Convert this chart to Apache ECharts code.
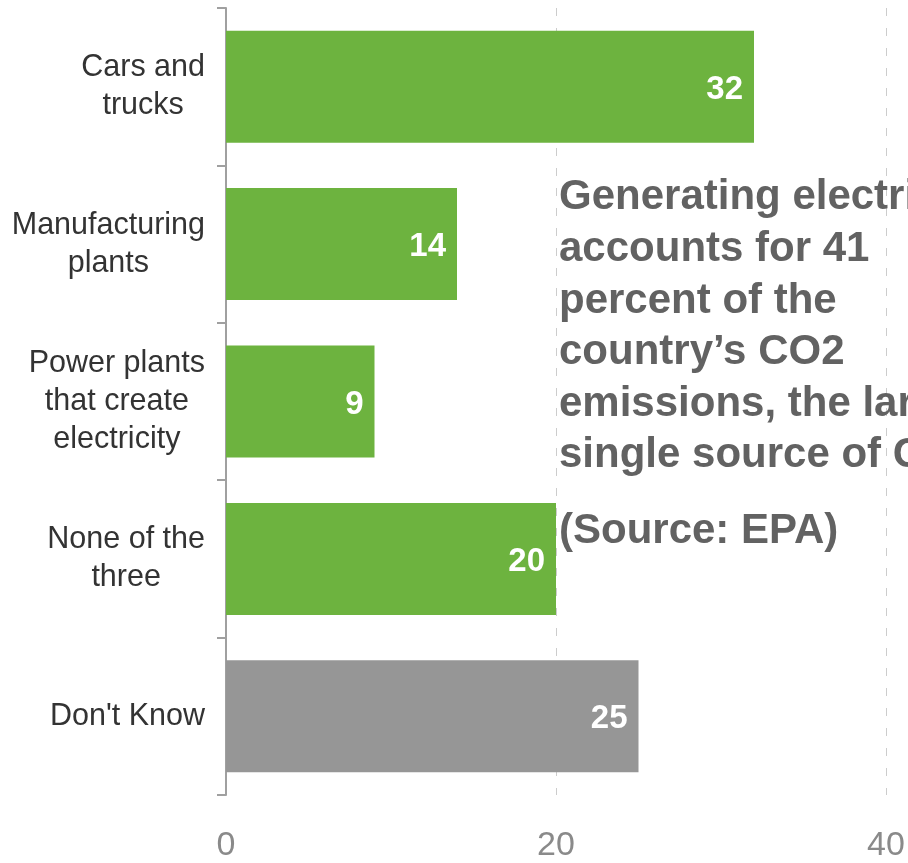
<!DOCTYPE html>
<html>
<head>
<meta charset="utf-8">
<script src="https://cdn.jsdelivr.net/npm/echarts@6/dist/echarts.min.js"></script>
<style>
html,body{margin:0;padding:0;background:#fff;}
#chart{width:908px;height:863px;}
</style>
</head>
<body>
<div id="chart"></div>
<script>
var categories = ['Cars and\ntrucks', 'Manufacturing\nplants', 'Power plants\nthat create\nelectricity', 'None of the\nthree', "Don't Know"];
var values = [32, 14, 9, 20, 25];
var barColors = ['#6db33f', '#6db33f', '#6db33f', '#6db33f', '#969696'];
var xTicks = [0, 20, 40];
var noteLines = ['Generating electricity', 'accounts for 41', 'percent of the', 'country\u2019s CO2', 'emissions, the largest', 'single source of CO2.'];
var sourceNote = '(Source: EPA)';

var chart = echarts.init(document.getElementById('chart'), null, {renderer: 'canvas'});
var option = {
  animation: false,
  grid: {left: 226, right: 22, top: 8, bottom: 66, containLabel: false},
  xAxis: {
    type: 'value', min: xTicks[0], max: xTicks[xTicks.length - 1], interval: 20,
    axisLine: {show: false}, axisTick: {show: false},
    axisLabel: {
      color: '#8a8a8a', fontSize: 34, fontFamily: 'Liberation Sans, Arial, sans-serif', margin: 34,
      formatter: function (v) { return xTicks.indexOf(v) >= 0 ? String(v) : ''; }
    },
    splitLine: {show: true, lineStyle: {color: '#cccccc', width: 1, type: [8, 12]}}
  },
  yAxis: {
    type: 'category', data: categories, inverse: true,
    axisLine: {show: true, lineStyle: {color: '#a0a0a0', width: 2}},
    axisTick: {show: true, length: 9, lineStyle: {color: '#a0a0a0', width: 2}},
    axisLabel: {
      margin: 21, color: '#333333', fontSize: 30.5, fontFamily: 'Liberation Sans, Arial, sans-serif',
      formatter: function (v) { return v.split('\n').map(function (s) { return '{a|' + s + '}'; }).join('\n'); },
      rich: {a: {align: 'center', fontSize: 30.5, lineHeight: 38, color: '#333333', fontFamily: 'Liberation Sans, Arial, sans-serif'}}
    }
  },
  series: [{
    type: 'bar', barWidth: 112,
    data: values.map(function (v, i) { return {value: v, itemStyle: {color: barColors[i]}}; }),
    label: {
      show: true, position: 'insideRight', distance: 11, offset: [0, 3],
      color: '#ffffff', fontSize: 33, fontWeight: 'bold', fontFamily: 'Liberation Sans, Arial, sans-serif'
    }
  }],
  graphic: [
    {type: 'text', left: 559, top: 172, z: 100, style: {
      text: noteLines.join('\n'), fill: '#626262', font: 'bold 42px "Liberation Sans", Arial, sans-serif', lineHeight: 51.6
    }},
    {type: 'text', left: 559, top: 505, z: 100, style: {
      text: sourceNote, fill: '#626262', font: 'bold 42px "Liberation Sans", Arial, sans-serif', lineHeight: 52
    }}
  ]
};
chart.setOption(option);
</script>
</body>
</html>
